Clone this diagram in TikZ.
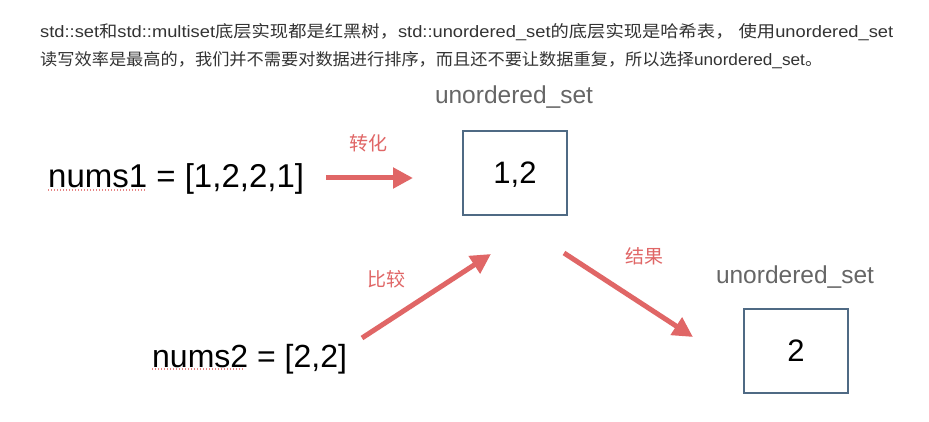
\documentclass[tikz,border=0pt]{standalone}
\usepackage{fontspec}
\setmainfont{Liberation Sans}
\newfontfamily\cjk{Noto Sans CJK SC}
\usetikzlibrary{arrows.meta}
\definecolor{arrowred}{HTML}{E06666}
\definecolor{boxblue}{HTML}{4F6A84}
\definecolor{labelgray}{HTML}{666666}
\definecolor{headtext}{HTML}{333333}
\newcommand{\zh}[1]{{\cjk #1}}
\tikzset{
  setbox/.style={draw=boxblue, line width=2pt, minimum width=104pt, minimum height=84pt, inner sep=0pt, text depth=0pt, font=\fontsize{31}{31}\selectfont},
  setlabel/.style={text=labelgray, font=\fontsize{24.5}{24.5}\selectfont, inner sep=0pt},
  opname/.style={text=arrowred, font=\cjk\fontsize{19}{19}\selectfont, inner sep=0pt},
  bigarrow/.style={draw=arrowred, line width=5pt, -{Triangle[length=20pt,width=20pt]}},
  headline/.style={text=headtext, font=\fontsize{16.5}{16.5}\selectfont, inner sep=0pt, anchor=west},
  numtext/.style={inner sep=0pt, anchor=base west},
  squiggle/.style={draw=arrowred!80, line width=1.3pt, dash pattern=on 1.3pt off 1.7pt}
}
\begin{document}
\begin{tikzpicture}[x=1pt,y=-1pt]
\useasboundingbox[fill=white] (0,0) rectangle (929,422);
% header text
\node[headline] (h1) at (40,32) {\resizebox{853pt}{\height}{std::set\zh{和}std::multiset\zh{底层实现都是红黑树，}std::unordered\_set\zh{的底层实现是哈希表，} \zh{使用}unordered\_set}};
\node[headline] (h2) at (40,60) {\resizebox{782pt}{\height}{\zh{读写效率是最高的，我们并不需要对数据进行排序，而且还不要让数据重复，所以选择}unordered\_set\zh{。}}};
% set boxes
\node[setbox] (box1) at (515,173) {1,2};
\node[setlabel] (lab1) at (514,97) {unordered\_set};
\node[setbox] (box2) at (796,351) {2};
\node[setlabel] (lab2) at (795,277) {unordered\_set};
% arrays
\node[numtext, font=\fontsize{33}{33}\selectfont] (n1) at (48,188) {nums1 = [1,2,2,1]};
\node[numtext, font=\fontsize{32}{32}\selectfont] (n2) at (152,367) {nums2 = [2,2]};
\draw[squiggle] (48,190) coordinate (u1a) -- (145,190) coordinate (u1b);
\draw[squiggle] (152,369) coordinate (u2a) -- (243,369) coordinate (u2b);
% arrows
\coordinate (a1s) at (326,178);
\coordinate (a1e) at (413,178);
\coordinate (a2s) at (362,338);
\coordinate (a2e) at (491,254);
\coordinate (a3s) at (564,253);
\coordinate (a3e) at (693,337);
\draw[bigarrow] (a1s) -- (a1e);
\draw[bigarrow] (a2s) -- (a2e);
\draw[bigarrow] (a3s) -- (a3e);
\node[opname] (op1) at (368,143) {转化};
\node[opname] (op2) at (386,279) {比较};
\node[opname] (op3) at (644,256) {结果};
\end{tikzpicture}
\end{document}
